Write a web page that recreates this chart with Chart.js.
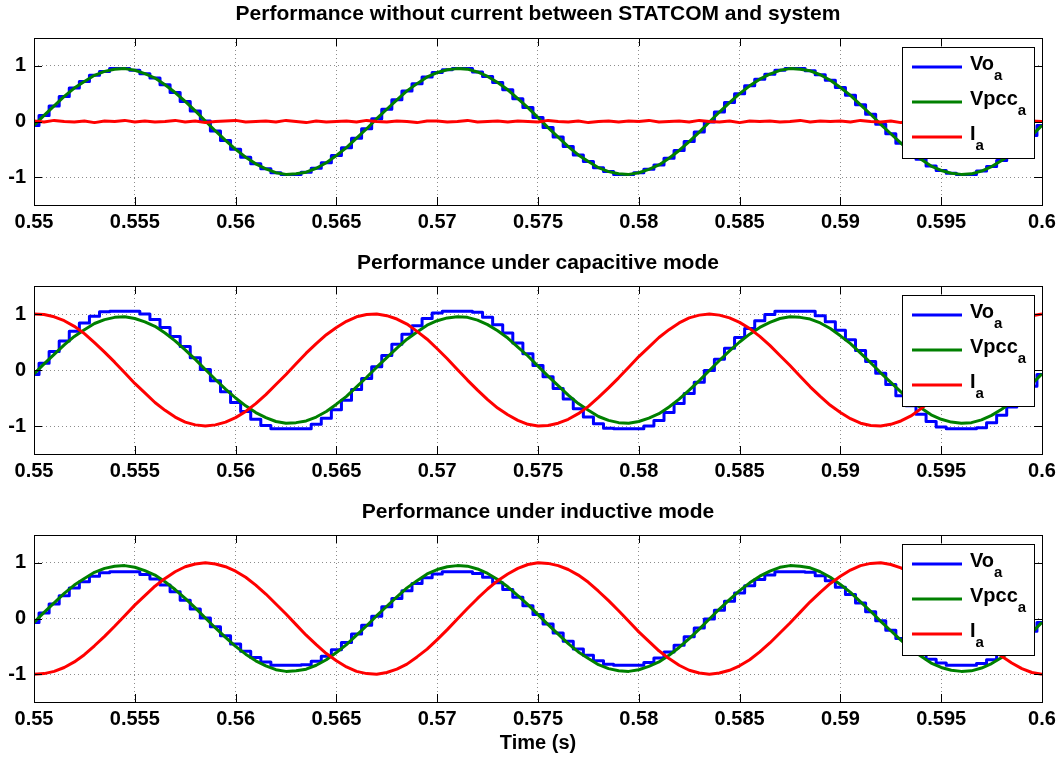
<!DOCTYPE html>
<html>
<head>
<meta charset="utf-8">
<script src="https://cdn.jsdelivr.net/npm/chart.js@4.4.1/dist/chart.umd.min.js"></script>
<style>
  html, body { margin: 0; padding: 0; background: #fff; }
  #wrap { position: relative; width: 1062px; height: 757px; }
  canvas { position: absolute; left: 0; }
</style>
</head>
<body>
<div id="wrap">
  <canvas id="c1" width="1062" height="240" style="top:0px"></canvas>
  <canvas id="c2" width="1062" height="250" style="top:240px"></canvas>
  <canvas id="c3" width="1062" height="267" style="top:490px"></canvas>
</div>
<script>
// time axis (s), one sample every 0.5 ms
const time = [
  0.5500,0.5505,0.5510,0.5515,0.5520,0.5525,0.5530,0.5535,0.5540,0.5545,
  0.5550,0.5555,0.5560,0.5565,0.5570,0.5575,0.5580,0.5585,0.5590,0.5595,
  0.5600,0.5605,0.5610,0.5615,0.5620,0.5625,0.5630,0.5635,0.5640,0.5645,
  0.5650,0.5655,0.5660,0.5665,0.5670,0.5675,0.5680,0.5685,0.5690,0.5695,
  0.5700,0.5705,0.5710,0.5715,0.5720,0.5725,0.5730,0.5735,0.5740,0.5745,
  0.5750,0.5755,0.5760,0.5765,0.5770,0.5775,0.5780,0.5785,0.5790,0.5795,
  0.5800,0.5805,0.5810,0.5815,0.5820,0.5825,0.5830,0.5835,0.5840,0.5845,
  0.5850,0.5855,0.5860,0.5865,0.5870,0.5875,0.5880,0.5885,0.5890,0.5895,
  0.5900,0.5905,0.5910,0.5915,0.5920,0.5925,0.5930,0.5935,0.5940,0.5945,
  0.5950,0.5955,0.5960,0.5965,0.5970,0.5975,0.5980,0.5985,0.5990,0.5995,
  0.6000
];

// Vpcc_a, same in the three panels
const vpcc = [
  -0.07,0.11,0.28,0.45,0.60,0.72,0.83,0.90,0.94,0.95,
  0.92,0.86,0.78,0.66,0.52,0.36,0.19,0.01,-0.17,-0.34,
  -0.50,-0.64,-0.76,-0.85,-0.92,-0.95,-0.94,-0.91,-0.84,-0.74,
  -0.61,-0.47,-0.30,-0.13,0.05,0.22,0.39,0.55,0.68,0.80,
  0.88,0.93,0.95,0.94,0.89,0.81,0.70,0.57,0.41,0.25,
  0.07,-0.11,-0.28,-0.45,-0.60,-0.72,-0.83,-0.90,-0.94,-0.95,
  -0.92,-0.86,-0.78,-0.66,-0.52,-0.36,-0.19,-0.01,0.17,0.34,
  0.50,0.64,0.76,0.85,0.92,0.95,0.94,0.91,0.84,0.74,
  0.61,0.47,0.30,0.13,-0.05,-0.22,-0.39,-0.55,-0.68,-0.80,
  -0.88,-0.93,-0.95,-0.94,-0.89,-0.81,-0.70,-0.57,-0.41,-0.25,
  -0.07
];

// panel 1: no current
const vo1 = [
  -0.07,0.11,0.28,0.45,0.60,0.72,0.83,0.90,0.95,0.95,
  0.92,0.86,0.78,0.66,0.52,0.36,0.19,0.01,-0.17,-0.34,
  -0.50,-0.64,-0.76,-0.85,-0.92,-0.95,-0.95,-0.91,-0.84,-0.74,
  -0.61,-0.47,-0.30,-0.13,0.05,0.22,0.39,0.55,0.68,0.80,
  0.88,0.93,0.95,0.95,0.89,0.81,0.70,0.57,0.41,0.25,
  0.07,-0.11,-0.28,-0.45,-0.60,-0.72,-0.83,-0.90,-0.95,-0.95,
  -0.92,-0.86,-0.78,-0.66,-0.52,-0.36,-0.19,-0.01,0.17,0.34,
  0.50,0.64,0.76,0.85,0.92,0.95,0.95,0.91,0.84,0.74,
  0.61,0.47,0.30,0.13,-0.05,-0.22,-0.39,-0.55,-0.68,-0.80,
  -0.88,-0.93,-0.95,-0.95,-0.89,-0.81,-0.70,-0.57,-0.41,-0.25,
  -0.07
];
const ia1 = [
  0.01,-0.01,0.02,0.00,-0.01,0.01,-0.02,0.01,0.00,0.02,
  -0.01,0.01,-0.01,0.00,0.02,-0.01,0.01,-0.02,0.00,0.01,
  0.02,-0.01,0.00,0.01,-0.01,0.02,0.00,-0.02,0.01,-0.01,
  0.00,0.01,-0.01,0.02,0.00,-0.01,0.01,0.00,-0.02,0.01,
  0.01,-0.01,0.00,0.02,-0.01,0.00,0.01,-0.01,0.01,0.00,
  -0.01,0.02,0.00,-0.01,0.01,-0.02,0.00,0.01,-0.01,0.01,
  0.00,0.02,-0.01,0.00,0.01,-0.01,0.02,0.00,-0.01,0.01,
  -0.02,0.01,0.00,0.01,-0.01,0.00,0.02,-0.01,0.01,0.00,
  0.01,-0.01,0.02,0.00,-0.01,0.01,-0.02,0.00,0.01,-0.01,
  0.00,0.01,-0.01,0.02,0.00,-0.01,0.01,0.00,-0.01,0.01,
  0.00
];

// panel 2: capacitive mode
const vo2 = [
  -0.08,0.12,0.33,0.52,0.69,0.84,0.96,1.04,1.05,1.05,
  1.05,1.00,0.90,0.76,0.60,0.42,0.22,0.01,-0.19,-0.39,
  -0.58,-0.74,-0.88,-0.99,-1.05,-1.05,-1.05,-1.05,-0.97,-0.86,
  -0.71,-0.54,-0.35,-0.15,0.06,0.26,0.46,0.64,0.79,0.92,
  1.02,1.05,1.05,1.05,1.03,0.94,0.81,0.66,0.48,0.29,
  0.08,-0.12,-0.33,-0.52,-0.69,-0.84,-0.96,-1.04,-1.05,-1.05,
  -1.05,-1.00,-0.90,-0.76,-0.60,-0.42,-0.22,-0.01,0.19,0.39,
  0.58,0.74,0.88,0.99,1.05,1.05,1.05,1.05,0.97,0.86,
  0.71,0.54,0.35,0.15,-0.06,-0.26,-0.46,-0.64,-0.79,-0.92,
  -1.02,-1.05,-1.05,-1.05,-1.03,-0.94,-0.81,-0.66,-0.48,-0.29,
  -0.08
];
const ia2 = [
  1.00,0.99,0.95,0.88,0.78,0.65,0.49,0.32,0.14,-0.05,
  -0.24,-0.41,-0.58,-0.72,-0.84,-0.93,-0.98,-1.00,-0.98,-0.93,
  -0.85,-0.74,-0.60,-0.44,-0.26,-0.08,0.11,0.30,0.47,0.63,
  0.76,0.87,0.95,0.99,1.00,0.97,0.91,0.82,0.69,0.55,
  0.38,0.20,0.01,-0.18,-0.36,-0.53,-0.68,-0.80,-0.90,-0.97,
  -1.00,-0.99,-0.95,-0.88,-0.78,-0.65,-0.49,-0.32,-0.14,0.05,
  0.24,0.41,0.58,0.72,0.84,0.93,0.98,1.00,0.98,0.93,
  0.85,0.74,0.60,0.44,0.26,0.08,-0.11,-0.30,-0.47,-0.63,
  -0.76,-0.87,-0.95,-0.99,-1.00,-0.97,-0.91,-0.82,-0.69,-0.55,
  -0.38,-0.20,-0.01,0.18,0.36,0.53,0.68,0.80,0.90,0.97,
  1.00
];

// panel 3: inductive mode
const vo3 = [
  -0.07,0.10,0.26,0.41,0.55,0.66,0.76,0.82,0.84,0.84,
  0.84,0.79,0.71,0.60,0.48,0.33,0.17,0.01,-0.15,-0.31,
  -0.46,-0.59,-0.70,-0.78,-0.84,-0.84,-0.84,-0.83,-0.77,-0.68,
  -0.56,-0.43,-0.28,-0.12,0.04,0.21,0.36,0.50,0.63,0.73,
  0.80,0.84,0.84,0.84,0.81,0.74,0.64,0.52,0.38,0.23,
  0.07,-0.10,-0.26,-0.41,-0.55,-0.66,-0.76,-0.82,-0.84,-0.84,
  -0.84,-0.79,-0.71,-0.60,-0.48,-0.33,-0.17,-0.01,0.15,0.31,
  0.46,0.59,0.70,0.78,0.84,0.84,0.84,0.83,0.77,0.68,
  0.56,0.43,0.28,0.12,-0.04,-0.21,-0.36,-0.50,-0.63,-0.73,
  -0.80,-0.84,-0.84,-0.84,-0.81,-0.74,-0.64,-0.52,-0.38,-0.23,
  -0.07
];
const ia3 = [
  -1.00,-0.99,-0.95,-0.88,-0.78,-0.65,-0.49,-0.32,-0.14,0.05,
  0.24,0.41,0.58,0.72,0.84,0.93,0.98,1.00,0.98,0.93,
  0.85,0.74,0.60,0.44,0.26,0.08,-0.11,-0.30,-0.47,-0.63,
  -0.76,-0.87,-0.95,-0.99,-1.00,-0.97,-0.91,-0.82,-0.69,-0.55,
  -0.38,-0.20,-0.01,0.18,0.36,0.53,0.68,0.80,0.90,0.97,
  1.00,0.99,0.95,0.88,0.78,0.65,0.49,0.32,0.14,-0.05,
  -0.24,-0.41,-0.58,-0.72,-0.84,-0.93,-0.98,-1.00,-0.98,-0.93,
  -0.85,-0.74,-0.60,-0.44,-0.26,-0.08,0.11,0.30,0.47,0.63,
  0.76,0.87,0.95,0.99,1.00,0.97,0.91,0.82,0.69,0.55,
  0.38,0.20,0.01,-0.18,-0.36,-0.53,-0.68,-0.80,-0.90,-0.97,
  -1.00
];

const xTicks = [0.55,0.555,0.56,0.565,0.57,0.575,0.58,0.585,0.59,0.595,0.6];
const xTickLabels = ['0.55','0.555','0.56','0.565','0.57','0.575','0.58','0.585','0.59','0.595','0.6'];
const yTicks = [-1, 0, 1];
const yTickLabels = ['-1', '0', '1'];

const titles = [
  'Performance without current between STATCOM and system',
  'Performance under capacitive mode',
  'Performance under inductive mode'
];
const seriesNames = ['Vo', 'Vpcc', 'I'];
const seriesSub = 'a';
const xTitle = 'Time (s)';

const FONT = '"Liberation Sans", Arial, Helvetica, sans-serif';
const BLUE = 'rgb(0,0,255)', GREEN = 'rgb(0,128,0)', RED = 'rgb(255,0,0)';

Chart.defaults.font.family = FONT;
Chart.defaults.color = '#000';

// MATLAB-like frame: box, inner ticks, title and legend with subscripts
const matlabAxes = {
  id: 'matlabAxes',
  afterDraw(chart, args, opts) {
    const { ctx, chartArea: a, scales: { x, y } } = chart;
    ctx.save();

    ctx.fillStyle = '#000';
    ctx.font = 'bold 21px ' + FONT;
    ctx.textAlign = 'center';
    ctx.textBaseline = 'middle';
    ctx.fillText(opts.title, (a.left + a.right) / 2, a.top - opts.titleGap);

    ctx.strokeStyle = '#000';
    ctx.lineWidth = 1;
    ctx.strokeRect(Math.round(a.left) + 0.5, Math.round(a.top) + 0.5,
                   Math.round(a.right - a.left), Math.round(a.bottom - a.top));
    const tl = 8;
    ctx.beginPath();
    xTicks.forEach(v => {
      const px = Math.round(x.getPixelForValue(v)) + 0.5;
      ctx.moveTo(px, a.bottom); ctx.lineTo(px, a.bottom - tl);
      ctx.moveTo(px, a.top); ctx.lineTo(px, a.top + tl);
    });
    yTicks.forEach(v => {
      const py = Math.round(y.getPixelForValue(v)) + 0.5;
      ctx.moveTo(a.left, py); ctx.lineTo(a.left + tl, py);
      ctx.moveTo(a.right, py); ctx.lineTo(a.right - tl, py);
    });
    ctx.stroke();

    // legend
    const bx = Math.round(a.right - 140), by = Math.round(a.top + 9);
    ctx.fillStyle = '#fff';
    ctx.fillRect(bx, by, 132, 111);
    ctx.strokeRect(bx + 0.5, by + 0.5, 132, 111);
    chart.data.datasets.forEach((ds, i) => {
      const ly = by + 20 + i * 35;
      ctx.strokeStyle = ds.borderColor;
      ctx.lineWidth = 3;
      ctx.beginPath();
      ctx.moveTo(bx + 10, ly);
      ctx.lineTo(bx + 60, ly);
      ctx.stroke();
      ctx.fillStyle = '#000';
      ctx.textAlign = 'left';
      ctx.textBaseline = 'alphabetic';
      ctx.font = 'bold 20px ' + FONT;
      ctx.fillText(ds.label, bx + 68, ly + 3);
      const w = ctx.measureText(ds.label).width;
      ctx.font = 'bold 15px ' + FONT;
      ctx.fillText(seriesSub, bx + 68 + w, ly + 13);
    });
    ctx.restore();
  }
};

function makePanel(id, title, vo, ia, padTop, titleGap, xHeight, showXTitle) {
  const ctx = document.getElementById(id).getContext('2d');
  return new Chart(ctx, {
    type: 'line',
    data: {
      labels: time,
      datasets: [
        { label: seriesNames[0], data: vo, borderColor: BLUE, borderWidth: 3, stepped: 'middle', order: 2 },
        { label: seriesNames[1], data: vpcc, borderColor: GREEN, borderWidth: 3, order: 1 },
        { label: seriesNames[2], data: ia, borderColor: RED, borderWidth: 3, order: 0 }
      ]
    },
    options: {
      responsive: false,
      animation: false,
      events: [],
      elements: { point: { radius: 0 }, line: { borderJoinStyle: 'round', borderCapStyle: 'butt' } },
      layout: { padding: { top: padTop, right: 20, left: 0, bottom: 0 } },
      plugins: {
        legend: { display: false },
        tooltip: { enabled: false },
        title: { display: false },
        matlabAxes: { title: title, titleGap: titleGap }
      },
      scales: {
        x: {
          type: 'linear',
          min: 0.55,
          max: 0.6,
          afterBuildTicks: axis => { axis.ticks = xTicks.map(v => ({ value: v })); },
          afterFit: axis => { axis.height = xHeight; },
          ticks: {
            autoSkip: false,
            maxRotation: 0,
            padding: 5,
            font: { size: 20, weight: 'bold' },
            callback: v => xTickLabels[xTicks.indexOf(v)]
          },
          grid: { color: 'rgba(0,0,0,0.45)', lineWidth: 1, drawTicks: false },
          border: { display: false, dash: [1, 3] },
          title: {
            display: showXTitle,
            text: xTitle,
            font: { size: 20, weight: 'bold' },
            padding: { top: 0, bottom: 2 }
          }
        },
        y: {
          min: -1.5,
          max: 1.5,
          afterBuildTicks: axis => { axis.ticks = yTicks.map(v => ({ value: v })); },
          afterFit: axis => { axis.width = 34; },
          ticks: {
            padding: 8,
            font: { size: 20, weight: 'bold' },
            callback: v => yTickLabels[yTicks.indexOf(v)]
          },
          grid: { color: 'rgba(0,0,0,0.45)', lineWidth: 1, drawTicks: false },
          border: { display: false, dash: [1, 3] }
        }
      }
    },
    plugins: [matlabAxes]
  });
}

makePanel('c1', titles[0], vo1, ia1, 38, 24, 35, false);
makePanel('c2', titles[1], vo2, ia2, 46, 23, 36, false);
makePanel('c3', titles[2], vo3, ia3, 45, 23, 55, true);
</script>
</body>
</html>
